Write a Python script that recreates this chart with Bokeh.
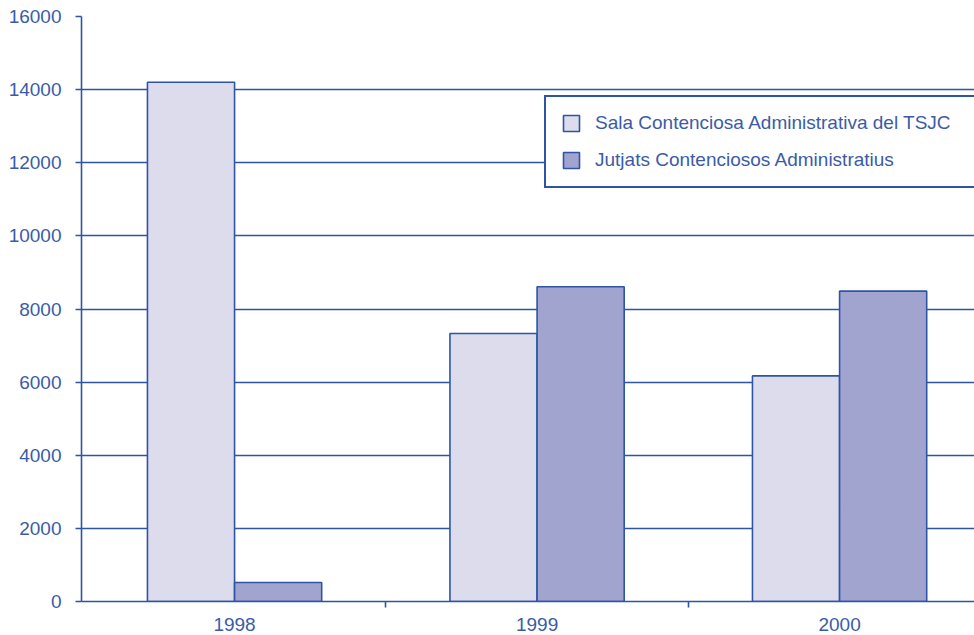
from bokeh.plotting import figure
from bokeh.models import ColumnDataSource, Range1d, FixedTicker, Legend, LegendItem
from bokeh.transform import dodge
from bokeh.embed import file_html
from bokeh.resources import INLINE

categories = ["1998", "1999", "2000"]
sala_tsjc = [14200, 7330, 6170]
jutjats = [520, 8610, 8490]
y_ticks = [0, 2000, 4000, 6000, 8000, 10000, 12000, 14000, 16000]
series_names = ["Sala Contenciosa Administrativa del TSJC", "Jutjats Contenciosos Administratius"]

BLUE = "#2E55A5"
TEXT = "#3A5CA8"
LIGHT = "#DCDCEC"
DARK = "#A2A4D0"
FONT = "Liberation Sans"
FS = "19px"

xpos = [i + 0.5 for i in range(len(categories))]
src = ColumnDataSource(dict(x=xpos, a=sala_tsjc, b=jutjats))

p = figure(width=974, height=635, output_backend="svg", toolbar_location=None,
           x_range=Range1d(-0.006, 2.946), y_range=Range1d(0, 16000),
           min_border_left=81, min_border_right=0, min_border_top=16, min_border_bottom=34)
p.outline_line_color = None
p.background_fill_color = "white"
p.border_fill_color = "white"

bw = 0.288
r1 = p.vbar(x=dodge("x", -bw / 2, range=p.x_range), top="a", width=bw, source=src,
            fill_color=LIGHT, line_color=BLUE, line_width=1.6)
r2 = p.vbar(x=dodge("x", bw / 2, range=p.x_range), top="b", width=bw, source=src,
            fill_color=DARK, line_color=BLUE, line_width=1.6)

# y axis
p.yaxis.ticker = FixedTicker(ticks=y_ticks, minor_ticks=[])
p.yaxis.axis_line_color = BLUE
p.yaxis.axis_line_width = 1.6
p.yaxis.major_tick_line_color = BLUE
p.yaxis.major_tick_line_width = 1.6
p.yaxis.major_tick_out = 6
p.yaxis.major_tick_in = 0
p.yaxis.minor_tick_line_color = None
p.yaxis.major_label_standoff = 14
p.yaxis.major_label_text_color = TEXT
p.yaxis.major_label_text_font = FONT
p.yaxis.major_label_text_font_size = FS

# x axis
p.xaxis.ticker = FixedTicker(ticks=xpos, minor_ticks=[1, 2])
p.xaxis.major_label_overrides = {x: c for x, c in zip(xpos, categories)}
p.xaxis.axis_line_color = BLUE
p.xaxis.axis_line_width = 1.6
p.xaxis.major_tick_line_color = None
p.xaxis.major_tick_out = 6
p.xaxis.minor_tick_line_color = BLUE
p.xaxis.minor_tick_line_width = 1.6
p.xaxis.minor_tick_out = 6
p.xaxis.minor_tick_in = 0
p.xaxis.major_label_standoff = 10
p.xaxis.major_label_text_color = TEXT
p.xaxis.major_label_text_font = FONT
p.xaxis.major_label_text_font_size = FS

# grid
p.xgrid.grid_line_color = None
p.ygrid.ticker = FixedTicker(ticks=y_ticks[1:-1])
p.ygrid.grid_line_color = BLUE
p.ygrid.grid_line_width = 1.6

legend = Legend(items=[LegendItem(label=series_names[0], renderers=[r1]),
                       LegendItem(label=series_names[1], renderers=[r2])],
                location=(463, 413), orientation="vertical")
legend.border_line_color = BLUE
legend.border_line_width = 2.5
legend.border_line_alpha = 1
legend.background_fill_color = "white"
legend.background_fill_alpha = 1
legend.padding = 15
legend.spacing = 15
legend.glyph_width = 20
legend.glyph_height = 20
legend.label_height = 20
legend.label_width = 420
legend.label_standoff = 14
legend.margin = 0
legend.label_text_color = TEXT
legend.label_text_font = FONT
legend.label_text_font_size = FS
p.add_layout(legend, "center")

open("out.html", "w").write(file_html(p, INLINE))
